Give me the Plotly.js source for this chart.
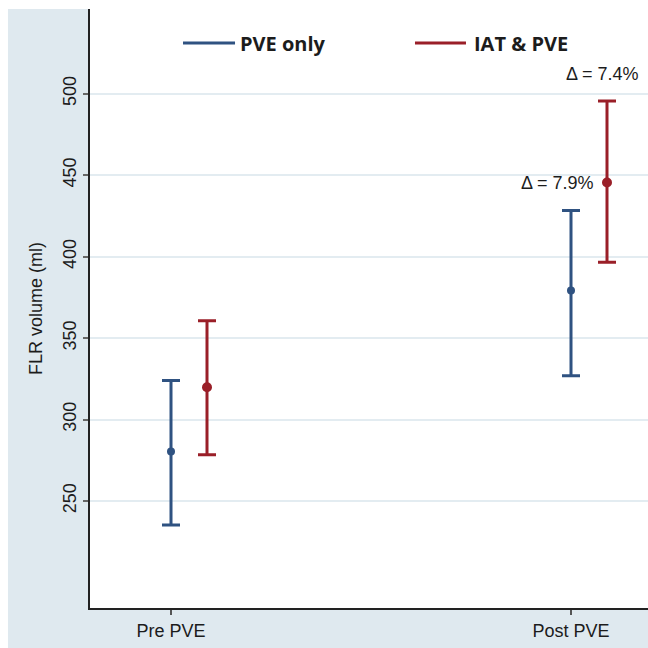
<!DOCTYPE html>
<html><head><meta charset="utf-8">
<script src="https://cdn.plot.ly/plotly-3.0.1.min.js"></script>
<style>html,body{margin:0;padding:0;background:#fff}#c{width:648px;height:648px}</style>
</head><body><div id="c"></div>
<script>
const categories = ['Pre PVE', 'Post PVE'];
const seriesNames  = ['PVE only', 'IAT &amp; PVE'];
const pveOnlyMean  = [280.3, 379.2];
const pveOnlyUpper = [323.9, 428.3];
const pveOnlyLower = [235.3, 326.8];
const iatPveMean   = [319.8, 445.5];
const iatPveUpper  = [360.6, 495.5];
const iatPveLower  = [278.3, 396.6];
const deltaLabels  = ['Δ = 7.9%', 'Δ = 7.4%'];
const yTicks = [250, 300, 350, 400, 450, 500];

const BLUE = '#2f5281', RED = '#9a1f28';
const idx = categories.map((_, i) => i);
const redOffset = 0.09;

function trace(mean, up, lo, color, xs, msize) {
  return {
    type: 'scatter', mode: 'markers', x: xs, y: mean, showlegend: false,
    marker: {color: color, size: msize},
    error_y: {type: 'data', symmetric: false,
      array: mean.map((m, i) => up[i] - m),
      arrayminus: mean.map((m, i) => m - lo[i]),
      color: color, thickness: 3, width: 9}
  };
}
const xBlue = idx;
const xRed = idx.map(i => i + redOffset);
const data = [
  trace(pveOnlyMean, pveOnlyUpper, pveOnlyLower, BLUE, xBlue, 8),
  trace(iatPveMean, iatPveUpper, iatPveLower, RED, xRed, 10)
];
const TXT = '#1c1c1c';
const legFont = {family: 'Open Sans, Liberation Sans, sans-serif', size: 20, color: TXT, weight: 'bold'};
const legY = 0.9432;
const layout = {
  width: 648, height: 648,
  margin: {l: 90, r: 0, t: 9, b: 40},
  paper_bgcolor: '#dfe9ef', plot_bgcolor: '#ffffff',
  font: {family: 'Liberation Sans, Arial, sans-serif', color: TXT, size: 18},
  showlegend: false,
  xaxis: {range: [-0.2025, 1.1925], tickvals: idx, ticktext: categories,
    showgrid: false, zeroline: false, showline: true, linecolor: '#222', linewidth: 2,
    ticks: 'outside', ticklen: 5, tickcolor: '#555', tickwidth: 2,
    tickfont: {size: 18, color: TXT}},
  yaxis: {range: [184.3, 552], tickvals: yTicks, tickangle: -90,
    showgrid: true, gridcolor: '#e3ecf1', gridwidth: 2, zeroline: false,
    showline: true, linecolor: '#222', linewidth: 2,
    ticks: 'outside', ticklen: 5, tickcolor: '#666', tickwidth: 2,
    tickfont: {size: 18, color: TXT},
    title: {text: 'FLR volume (ml)', font: {size: 18, color: TXT}, standoff: 12}},
  shapes: [
    {type: 'rect', xref: 'paper', yref: 'paper', x0: -0.2, x1: -0.1470, y0: -0.1, y1: 1.1, fillcolor: '#fff', line: {width: 0}, layer: 'below'},
    {type: 'rect', xref: 'paper', yref: 'paper', x0: -0.2, x1: 1.1, y0: 1.0, y1: 1.1, fillcolor: '#fff', line: {width: 0}, layer: 'below'},
    {type: 'line', xref: 'paper', yref: 'paper', x0: 0.1667, x1: 0.2599, y0: legY, y1: legY, line: {color: BLUE, width: 3}},
    {type: 'line', xref: 'paper', yref: 'paper', x0: 0.5824, x1: 0.6738, y0: legY, y1: legY, line: {color: RED, width: 3}}
  ],
  annotations: [
    {x: 0.2652, y: legY, xref: 'paper', yref: 'paper', text: seriesNames[0], showarrow: false,
      xanchor: 'left', yanchor: 'middle', font: legFont},
    {x: 0.6846, y: legY, xref: 'paper', yref: 'paper', text: seriesNames[1], showarrow: false,
      xanchor: 'left', yanchor: 'middle', font: legFont},
    {x: xRed[1], y: iatPveMean[1], xref: 'x', yref: 'y', text: deltaLabels[0], showarrow: false,
      xanchor: 'right', yanchor: 'middle', xshift: -11, yshift: -1, font: {size: 18, color: TXT}},
    {x: xRed[1], y: iatPveUpper[1], xref: 'x', yref: 'y', text: deltaLabels[1], showarrow: false,
      xanchor: 'center', yanchor: 'bottom', yshift: 15, xshift: -5, font: {size: 18, color: TXT}}
  ]
};
Plotly.newPlot('c', data, layout, {displayModeBar: false, staticPlot: true});
</script></body></html>
